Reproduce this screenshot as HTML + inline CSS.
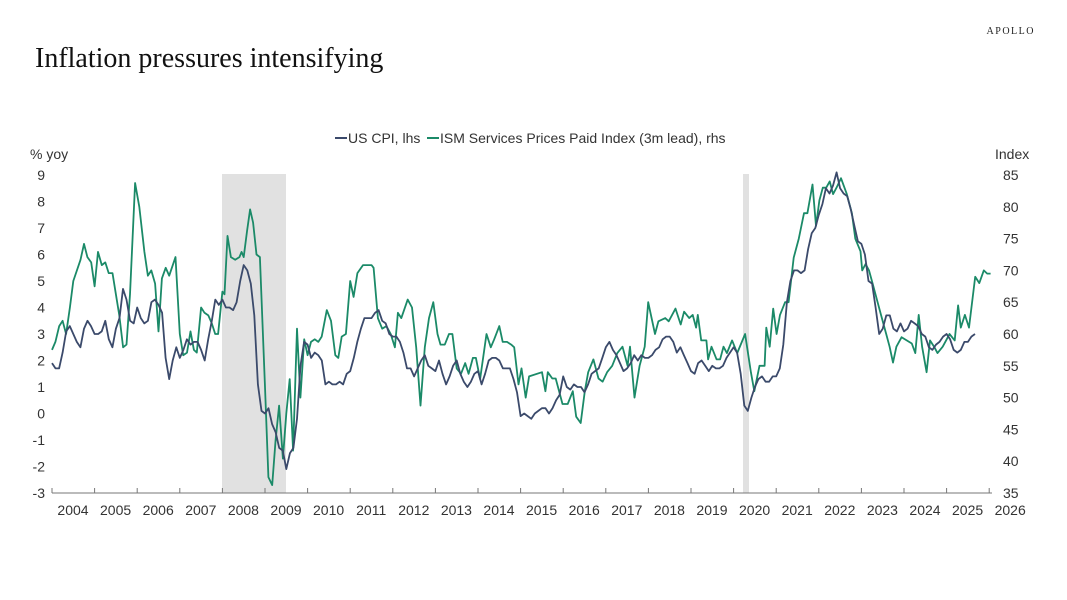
<!DOCTYPE html>
<html><head><meta charset="utf-8"><style>
body{margin:0;background:#fff;}
svg{display:block;font-family:"Liberation Sans",sans-serif;}
</style></head><body>
<svg id="c" width="1067" height="600" viewBox="0 0 1067 600">
<rect width="1067" height="600" fill="#fff"/>
<text x="35" y="67" font-family="Liberation Serif,serif" font-size="28" fill="#111">Inflation pressures intensifying</text>
<text x="1035" y="34" text-anchor="end" font-family="Liberation Serif,serif" font-size="10" letter-spacing="1.5" fill="#222">APOLLO</text>
<rect x="222" y="174" width="64" height="319" fill="#e1e1e1"/>
<rect x="743" y="174" width="6" height="319" fill="#e1e1e1"/>
<g font-size="14" fill="#333">
<line x1="335" y1="138" x2="347" y2="138" stroke="#3b4a6b" stroke-width="2"/>
<text x="348" y="143">US CPI, lhs</text>
<line x1="427" y1="138" x2="439" y2="138" stroke="#1b8a68" stroke-width="2"/>
<text x="440" y="143">ISM Services Prices Paid Index (3m lead), rhs</text>
<text x="30" y="159">% yoy</text>
<text x="995" y="159">Index</text>
</g>
<g id="ax"></g>
<path id="g" fill="none" stroke="#1b8a68" stroke-width="1.8" stroke-linejoin="round"/>
<path id="b" fill="none" stroke="#3b4a6b" stroke-width="1.8" stroke-linejoin="round"/>
</svg>
<script>
var X0=52,DX=42.6;
function X(t){return X0+t*DX;}
function Y(v){return 413.5-v*26.5;}
var ax=document.getElementById('ax'),s='';
for(var i=-3;i<=9;i++){s+='<text x="45" y="'+(Y(i)+5)+'" text-anchor="end" font-size="14" fill="#333">'+i+'</text>';}
for(var k=0;k<=10;k++){var idx=35+k*5;var v=(idx-35)*0.24-3;s+='<text x="1003" y="'+(Y(v)+5)+'" font-size="14" fill="#333">'+idx+'</text>';}
s+='<line x1="'+X0+'" y1="493" x2="992" y2="493" stroke="#777" stroke-width="1"/>';
for(var k=0;k<=22;k++){s+='<line x1="'+X(k)+'" y1="488" x2="'+X(k)+'" y2="493" stroke="#777"/>';}
for(var y=2004;y<=2026;y++){s+='<text x="'+(X(y-2004)+21)+'" y="515" text-anchor="middle" font-size="14" fill="#333">'+y+'</text>';}
ax.innerHTML=s;
var cpi=[1.9,1.7,1.7,2.3,3.1,3.3,3.0,2.7,2.5,3.2,3.5,3.3,
3.0,3.0,3.1,3.5,2.8,2.5,3.2,3.6,4.7,4.3,3.5,3.4,
4.0,3.6,3.4,3.5,4.2,4.3,4.1,3.8,2.1,1.3,2.0,2.5,
2.1,2.4,2.8,2.6,2.7,2.7,2.4,2.0,2.8,3.5,4.3,4.1,
4.3,4.0,4.0,3.9,4.2,5.0,5.6,5.4,4.9,3.7,1.1,0.1,
0.0,0.2,-0.4,-0.7,-1.3,-1.4,-2.1,-1.5,-1.3,-0.2,1.8,2.7,
2.6,2.1,2.3,2.2,2.0,1.1,1.2,1.1,1.1,1.2,1.1,1.5,
1.6,2.1,2.7,3.2,3.6,3.6,3.6,3.8,3.9,3.5,3.4,3.0,
2.9,2.9,2.7,2.3,1.7,1.7,1.4,1.7,2.0,2.2,1.8,1.7,
1.6,2.0,1.5,1.1,1.4,1.8,2.0,1.5,1.2,1.0,1.2,1.5,
1.6,1.1,1.5,2.0,2.1,2.1,2.0,1.7,1.7,1.7,1.3,0.8,
-0.1,0.0,-0.1,-0.2,0.0,0.1,0.2,0.2,0.0,0.2,0.5,0.7,
1.4,1.0,0.9,1.1,1.0,1.0,0.8,1.1,1.5,1.6,1.7,2.1,
2.5,2.7,2.4,2.2,1.9,1.6,1.7,1.9,2.2,2.0,2.2,2.1,
2.1,2.2,2.4,2.5,2.8,2.9,2.9,2.7,2.3,2.5,2.2,1.9,
1.6,1.5,1.9,2.0,1.8,1.6,1.8,1.7,1.7,1.8,2.1,2.3,
2.5,2.3,1.5,0.3,0.1,0.6,1.0,1.3,1.4,1.2,1.2,1.4,
1.4,1.7,2.6,4.2,5.0,5.4,5.4,5.3,5.4,6.2,6.8,7.0,
7.5,7.9,8.5,8.3,8.6,9.1,8.5,8.3,8.2,7.7,7.1,6.5,
6.4,6.0,5.0,4.9,4.0,3.0,3.2,3.7,3.7,3.2,3.1,3.4,
3.1,3.2,3.5,3.4,3.3,3.0,2.9,2.5,2.4,2.6,2.7,2.9,
3.0,2.8,2.4,2.3,2.4,2.7,2.7,2.9,3.0];
var d='';for(var i=0;i<cpi.length;i++){d+=(i?'L':'M')+X(i/12).toFixed(1)+','+Y(cpi[i]).toFixed(1);}
document.getElementById('b').setAttribute('d',d);
var g1=[[0,2.4],[.08,2.7],[.17,3.3],[.25,3.5],[.33,3.0],[.42,4.0],[.5,5.0],[.67,5.8],[.75,6.4],[.83,5.9],[.92,5.7],[1.0,4.8],[1.08,6.1],[1.17,5.6],[1.25,5.7],[1.33,5.3],[1.42,5.3],[1.5,4.5],[1.58,3.7],[1.67,2.5],[1.75,2.6],[1.83,4.5],[1.95,8.7],[2.05,7.8],[2.17,6.1],[2.25,5.2],[2.33,5.4],[2.42,4.9],[2.5,3.1],[2.58,5.1],[2.67,5.5],[2.75,5.2],[2.9,5.9],[3.0,3.0],[3.08,2.2],[3.17,2.3],[3.25,3.1],[3.33,2.4],[3.4,2.3],[3.5,4.0],[3.58,3.8],[3.67,3.7],[3.75,3.4],[3.83,3.0],[3.9,3.0],[4.0,4.6],[4.05,4.5],[4.12,6.7],[4.2,5.9],[4.3,5.8],[4.4,5.9],[4.45,6.1],[4.5,5.9],[4.58,6.9],[4.65,7.7],[4.72,7.2],[4.8,6.0],[4.88,5.9],[5.0,1.0],[5.08,-2.4],[5.17,-2.7],[5.25,-1.0],[5.33,0.3],[5.42,-1.7],[5.5,0],[5.58,1.3],[5.66,-1.4],[5.75,3.2],[5.83,0.6],[5.92,2.8],[6.0,2.2],[6.08,2.7],[6.17,2.8],[6.25,2.7],[6.33,2.9],[6.45,3.9],[6.55,3.5],[6.65,2.2],[6.72,2.1],[6.8,2.9],[6.9,3.0],[7.0,5.0],[7.08,4.4],[7.17,5.3],[7.3,5.6],[7.5,5.6],[7.55,5.5],[7.65,3.6],[7.75,3.2],[7.85,3.3],[7.95,3.0],[8.05,2.5],[8.12,3.8],[8.2,3.6],[8.35,4.3],[8.45,4.0],[8.55,2.5],[8.65,0.3],[8.75,2.5],[8.85,3.6],[8.95,4.2],[9.05,3.0],[9.12,2.6],[9.22,2.6],[9.32,3.0],[9.4,3.0],[9.5,1.7],[9.6,1.5],[9.7,1.9],[9.78,1.5],[9.88,2.1],[9.95,2.1],[10.05,1.3],[10.2,3.0],[10.3,2.5],[10.38,2.8],[10.5,3.3],[10.58,2.7],[10.68,2.7],[10.78,2.6],[10.85,2.5],[10.95,1.1],[11.02,1.7],[11.12,0.6],[11.2,1.4]];
var g2=[[0,57],[12,47],[35,54],[45,51],[52,54],[65,53],[75,53],[95,49],[110,49],[125,51],[135,47],[148,46],[160,51],[170,54],[185,56],[200,53],[212,52.5],[225,54],[240,55],[255,57],[270,58],[285,55],[292,58],[305,50],[320,55],[335,58],[345,65],[365,60],[375,62],[395,62.5],[405,62],[425,64],[440,61.5],[450,63.5],[465,62.5],[475,63],[485,61],[490,63],[500,59],[515,59],[520,56],[530,58],[545,56],[555,56],[565,58],[575,57],[590,59],[605,57],[628,60],[645,54],[655,51],[670,55],[685,55],[690,61],[700,58],[710,64],[720,60],[730,63],[745,65],[755,65],[770,72],[785,75],[800,79],[810,79],[825,83.5],[835,77],[845,81],[855,83],[865,83],[875,84],[885,82],[895,83],[908,84.5],[925,82],[940,79],[950,75],[965,73],[970,70],[980,71],[990,70],[1000,68],[1015,65],[1025,63],[1040,60],[1050,58],[1060,55.5],[1070,58],[1085,59.5],[1100,59],[1115,58.5],[1125,57],[1135,63],[1145,58],[1158,54],[1168,59],[1180,58],[1190,57],[1205,58],[1215,59],[1225,60],[1240,59],[1250,64.5],[1258,61],[1270,63],[1282,61],[1300,69],[1312,68],[1325,70],[1335,69.5],[1345,69.5]];
d='';
g1.forEach(function(p,i){d+=(i?'L':'M')+X(p[0]).toFixed(1)+','+Y(p[1]).toFixed(1);});
g2.forEach(function(p){if(p[0]<15)return;var x=530+p[0]/2.92;var v=(p[1]-35)*0.24-3;d+='L'+x.toFixed(1)+','+Y(v).toFixed(1);});
document.getElementById('g').setAttribute('d',d);
</script>
</body></html>
